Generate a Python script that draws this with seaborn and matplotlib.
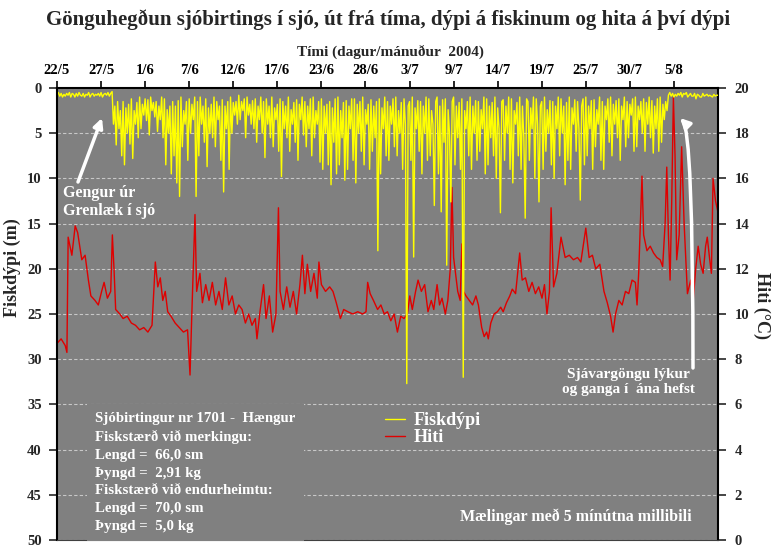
import numpy as np
import pandas as pd
import matplotlib
matplotlib.use("Agg")
import matplotlib.pyplot as plt
import seaborn as sns

# fish depth (m), one reading every 4 hours from 22/5 (one row per day)
depth = [
    0.8, 0.5, 0.9, 0.6, 1.0, 0.7,
    0.9, 0.6, 0.8, 0.5, 1.0, 0.6,
    0.7, 1.0, 0.6, 0.9, 0.5, 0.8,
    0.9, 0.6, 1.0, 0.7, 0.8, 0.5,
    1.0, 0.7, 0.6, 0.9, 0.7, 0.8,
    0.6, 0.9, 0.5, 1.0, 0.7, 0.6,
    0.8, 0.5, 0.9, 0.6, 0.4, 4.0,
    2.0, 6.3, 1.5, 4.5, 2.5, 7.5,
    1.5, 8.5, 2.2, 5.0, 1.8, 6.2,
    1.2, 7.8, 2.5, 4.0, 1.6, 5.5,
    1.0, 4.5, 1.8, 3.0, 1.2, 3.6,
    1.3, 5.2, 1.0, 2.5, 1.6, 3.2,
    1.5, 4.8, 2.0, 3.5, 1.0, 5.5,
    1.2, 8.5, 2.4, 5.0, 2.0, 9.5,
    1.5, 7.5, 2.0, 10.5, 1.4, 12.0,
    1.0, 6.5, 2.5, 4.0, 1.5, 8.0,
    1.2, 5.0, 1.8, 3.5, 1.0, 12.0,
    1.5, 7.5, 1.0, 4.0, 2.0, 6.0,
    1.2, 8.7, 2.2, 5.0, 1.8, 5.5,
    1.0, 6.5, 1.5, 3.5, 2.0, 8.0,
    1.3, 11.5, 2.0, 4.5, 1.5, 9.0,
    1.0, 5.0, 1.6, 3.0, 1.5, 4.0,
    0.8, 3.5, 1.5, 2.5, 1.2, 5.5,
    1.0, 3.0, 1.8, 4.0, 1.4, 4.5,
    1.2, 6.0, 2.0, 3.5, 1.0, 5.0,
    1.5, 7.7, 1.2, 4.0, 2.0, 5.5,
    1.0, 6.5, 2.2, 3.5, 1.8, 7.0,
    1.2, 9.8, 1.5, 4.5, 2.0, 5.5,
    1.0, 7.0, 2.4, 4.0, 1.6, 6.0,
    1.3, 8.0, 1.8, 3.5, 1.0, 5.2,
    1.5, 6.5, 2.0, 4.5, 1.2, 7.5,
    1.0, 5.5, 2.5, 4.0, 1.5, 8.2,
    1.2, 9.0, 2.0, 5.0, 1.8, 8.5,
    1.5, 10.7, 2.2, 6.0, 1.2, 9.5,
    1.0, 8.5, 2.5, 5.5, 1.6, 10.2,
    1.4, 9.0, 2.0, 4.5, 1.2, 8.0,
    1.2, 10.5, 1.8, 5.0, 1.5, 7.0,
    1.0, 8.5, 2.4, 4.0, 1.8, 9.0,
    1.3, 7.0, 2.0, 5.5, 1.5, 18.0,
    1.2, 9.5, 2.2, 4.5, 1.0, 7.5,
    1.5, 8.0, 2.0, 4.0, 1.2, 6.5,
    1.0, 7.5, 2.5, 5.0, 1.6, 9.0,
    1.2, 4.0, 32.7, 2.0, 1.5, 8.0,
    1.0, 18.7, 2.2, 4.5, 1.4, 7.0,
    1.5, 9.5, 2.0, 5.0, 1.0, 8.0,
    1.2, 7.5, 2.5, 4.0, 13.0, 1.5,
    1.0, 9.5, 2.0, 13.7, 1.3, 6.0,
    1.2, 19.6, 2.4, 5.0, 12.6, 1.5,
    1.0, 8.5, 2.0, 5.5, 1.6, 9.0,
    1.2, 32.0, 2.5, 4.5, 1.5, 7.5,
    1.0, 9.0, 2.0, 5.0, 1.4, 8.0,
    1.5, 7.0, 2.4, 4.5, 1.0, 9.5,
    1.2, 8.5, 2.0, 5.5, 1.6, 7.5,
    1.0, 10.0, 2.2, 4.5, 13.8, 1.5,
    1.3, 8.0, 2.0, 5.0, 1.0, 9.0,
    1.2, 10.5, 2.5, 4.0, 1.6, 7.5,
    1.0, 9.0, 2.0, 5.5, 14.4, 1.2,
    1.5, 8.0, 2.2, 4.5, 1.0, 10.0,
    1.2, 4.0, 12.6, 2.0, 1.5, 9.0,
    1.0, 7.0, 2.4, 5.0, 1.4, 8.5,
    1.5, 10.0, 2.0, 4.5, 1.0, 7.5,
    1.2, 5.0, 2.0, 10.7, 1.6, 8.0,
    1.0, 9.0, 2.2, 4.0, 1.3, 7.0,
    1.5, 4.5, 12.4, 2.0, 1.2, 8.5,
    1.0, 7.5, 2.0, 4.5, 1.4, 9.0,
    1.3, 6.5, 2.4, 4.0, 1.0, 8.0,
    1.5, 9.0, 2.0, 3.5, 1.2, 6.0,
    1.0, 7.5, 1.8, 4.0, 1.4, 5.5,
    1.2, 8.0, 2.0, 3.5, 1.0, 6.5,
    1.5, 5.5, 1.8, 3.0, 1.2, 7.0,
    1.0, 6.5, 2.0, 3.5, 1.5, 5.0,
    1.2, 7.0, 1.6, 4.0, 1.0, 5.5,
    1.4, 7.2, 2.0, 4.5, 1.2, 7.0,
    1.0, 6.0, 1.8, 3.5, 1.5, 2.5,
    0.8, 0.5, 0.9, 0.6, 1.0, 0.7,
    0.9, 0.6, 0.8, 0.5, 1.0, 0.6,
    0.7, 0.5, 1.0, 0.8, 0.6, 0.9,
    0.9, 0.6, 1.2, 0.7, 0.8, 1.0,
    1.0, 0.6, 0.9, 0.8, 0.7, 0.9,
    0.8, 0.9, 1.0, 0.7, 0.9, 0.8,
    0.8,
]

# temperature (°C), time in days from 22/5
temp_days = [
    0, 0.5, 1.0, 1.2, 1.35, 1.8, 2.2, 2.5, 3.0, 3.4, 3.8, 4.1, 4.6, 5.0, 5.4, 5.7, 6.1, 6.5, 6.7, 6.9,
    7.1, 7.6, 8.0, 8.5, 9.0, 9.5, 10.0, 10.5, 11.0, 11.5, 11.9, 12.2, 12.5, 12.8, 13.1, 13.4, 13.8, 14.3, 14.8, 15.3,
    15.8, 16.1, 16.3, 16.7, 16.9, 17.3, 17.6, 18.0, 18.4, 18.8, 19.2, 19.6, 20.0, 20.4, 20.8, 21.2, 21.6, 22.0, 22.4, 22.8,
    23.2, 23.6, 24.0, 24.2, 24.6, 25.0, 25.3, 25.7, 26.1, 26.5, 26.8, 27.0, 27.4, 27.8, 28.2, 28.6, 29.0, 29.4, 29.7, 30.0,
    30.3, 30.7, 31.1, 31.5, 31.7, 32.0, 32.5, 33.0, 33.4, 33.8, 34.3, 34.7, 35.2, 35.8, 36.4, 37.0, 37.4, 37.6, 37.9, 38.3,
    38.8, 39.2, 39.6, 40.0, 40.4, 40.8, 41.2, 41.6, 42.0, 42.4, 42.7, 43.0, 43.4, 43.7, 44.1, 44.5, 44.9, 45.3, 45.6, 46.0,
    46.3, 46.6, 47.0, 47.3, 47.6, 47.8, 48.0, 48.2, 48.5, 48.8, 49.0, 49.2, 49.5, 49.9, 50.3, 50.7, 51.0, 51.4, 51.7, 52.0,
    52.2, 52.5, 52.9, 53.3, 53.7, 54.0, 54.4, 54.8, 55.1, 55.5, 56.0, 56.3, 56.7, 57.1, 57.5, 57.9, 58.3, 58.7, 59.0, 59.3,
    59.6, 59.8, 60.1, 60.5, 61.0, 61.5, 62.0, 62.5, 63.0, 63.4, 64.0, 64.4, 64.8, 65.2, 65.7, 66.2, 66.6, 67.0, 67.3, 67.6,
    68.0, 68.4, 68.8, 69.2, 69.6, 70.0, 70.2, 70.4, 70.8, 71.0, 71.4, 71.8, 72.2, 72.6, 73.0, 73.3, 73.6, 73.8, 74.0, 74.2,
    74.4, 74.6, 74.8, 75.0, 75.3, 75.6, 75.9, 76.3, 76.7, 77.0, 77.3, 77.6, 77.9, 78.2, 78.5, 78.7, 79.0, 79.2, 79.4, 79.7,
    80.0,
]
temp = [
    8.7, 8.9, 8.6, 8.3, 13.4, 12.6, 13.9, 13.6, 12.4, 12.6, 11.5, 10.8, 10.6, 10.4, 11.0, 11.4, 10.7, 11.0, 13.5, 12.0,
    10.2, 10.0, 9.8, 9.9, 9.6, 9.5, 9.3, 9.4, 9.2, 9.5, 12.3, 11.2, 11.6, 10.6, 11.0, 10.1, 9.9, 9.6, 9.4, 9.2,
    9.3, 7.3, 9.8, 14.4, 11.0, 11.8, 10.5, 11.3, 10.6, 11.4, 10.4, 11.0, 10.2, 11.6, 10.4, 10.8, 10.0, 10.4, 10.2, 9.6,
    10.0, 9.5, 9.8, 8.9, 10.2, 11.3, 9.8, 10.8, 9.2, 10.0, 14.7, 11.0, 10.2, 11.2, 10.3, 11.0, 10.0, 11.3, 12.6, 10.9,
    12.2, 11.0, 11.8, 10.7, 12.3, 11.3, 11.0, 11.2, 11.0, 10.5, 9.8, 10.2, 10.1, 10.0, 10.1, 10.0, 10.1, 11.4, 10.9, 10.6,
    10.2, 10.4, 10.0, 10.1, 9.7, 10.0, 9.2, 9.9, 9.8, 10.0, 10.8, 10.2, 11.0, 11.5, 11.0, 11.3, 10.1, 10.6, 10.2, 11.3,
    10.4, 10.7, 10.0, 10.6, 12.0, 15.6, 12.5, 11.9, 11.0, 10.6, 13.1, 11.0, 10.8, 10.6, 10.4, 10.8, 10.4, 9.4, 9.0, 9.2,
    8.9, 9.6, 10.0, 10.1, 10.3, 10.1, 10.5, 10.8, 11.1, 10.9, 12.7, 11.5, 11.6, 11.0, 11.4, 10.9, 11.2, 10.7, 11.3, 10.0,
    11.0, 14.7, 11.2, 11.8, 13.4, 12.5, 12.6, 12.4, 12.5, 12.3, 13.8, 12.5, 12.6, 12.0, 12.2, 11.0, 10.5, 9.9, 9.2, 10.0,
    10.6, 10.4, 11.0, 10.9, 11.5, 11.4, 10.4, 11.8, 16.1, 13.5, 12.8, 13.0, 12.7, 12.5, 12.4, 12.1, 14.0, 16.5, 13.5, 11.5,
    15.0, 19.6, 17.0, 12.4, 13.5, 17.4, 14.0, 10.9, 11.5, 10.6, 12.0, 13.0, 12.2, 11.8, 13.0, 13.4, 12.4, 11.8, 16.0, 15.0,
    14.5,
]

tick_labels = ["22/5", "27/5", "1/6", "7/6", "12/6", "17/6", "23/6", "28/6",
               "3/7", "9/7", "14/7", "19/7", "25/7", "30/7", "5/8"]

df_depth = pd.DataFrame({"dagar": np.arange(len(depth)) / 6, "Fiskdýpi": depth})
df_temp = pd.DataFrame({"dagar": temp_days, "Hiti": temp})

sns.set_style("ticks")
plt.rcParams["font.family"] = ["Liberation Serif", "DejaVu Serif"]
plt.rcParams["font.weight"] = "bold"

fig = plt.figure(figsize=(7.73, 5.5), dpi=100)
ax = fig.add_axes([57 / 773, 10 / 550, 661 / 773, 452 / 550])
ax2 = ax.twinx()

# temperature axis sits underneath and carries the grey background + grid
ax.set_zorder(ax2.get_zorder() + 1)
ax.patch.set_visible(False)
ax2.patch.set_visible(True)
ax2.set_facecolor("#808080")

sns.lineplot(data=df_temp, x="dagar", y="Hiti", ax=ax2, color="#e00000", lw=1.0, label="Hiti", legend=False)
sns.lineplot(data=df_depth, x="dagar", y="Fiskdýpi", ax=ax, color="#ffff00", lw=1.0, label="Fiskdýpi", legend=False)

ax.set_xlim(0, 80)
ax.set_ylim(50, 0)
ax2.set_ylim(0, 20)
ax.set_yticks(range(0, 51, 5))
ax2.set_yticks(range(0, 21, 2))
ax2.yaxis.grid(True, color="#c8c8c8", linestyle=(0, (3, 2)), linewidth=0.8)
ax2.set_axisbelow(True)

ax.xaxis.tick_top()
ax.set_xticks(np.arange(len(tick_labels)) * 16 / 3)
ax.set_xticklabels(tick_labels)
ax.set_xlabel("")
ax.set_ylabel("")
ax2.set_ylabel("")

ax.tick_params(axis="x", direction="out", length=5, width=1.2, pad=3, labelsize=10.5, colors="black")
ax.tick_params(axis="y", direction="out", length=6, width=1.2, pad=5, labelsize=10.5)
ax2.tick_params(axis="y", direction="out", length=6, width=1.2, pad=6, labelsize=10.5)

for s in ["left", "top"]:
    ax.spines[s].set_color("black")
    ax.spines[s].set_linewidth(1.5)
ax.spines["right"].set_visible(False)
ax.spines["bottom"].set_color("#404040")
ax.spines["bottom"].set_linewidth(0.8)
for s in ["left", "top", "bottom"]:
    ax2.spines[s].set_visible(False)
ax2.spines["right"].set_color("black")
ax2.spines["right"].set_linewidth(1.5)

fig.text(0.502, 1 - 20 / 550, "Gönguhegðun sjóbirtings í sjó, út frá tíma, dýpi á fiskinum og hita á því dýpi",
         ha="center", va="center", fontsize=15, fontweight="bold")
fig.text(390 / 773, 1 - 52 / 550, "Tími (dagur/mánuður  2004)", ha="center", va="center", fontsize=11, fontweight="bold")
fig.text(12 / 773, 1 - 268 / 550, "Fiskdýpi (m)", rotation=90, ha="center", va="center", fontsize=13, fontweight="bold")
fig.text(762 / 773, 1 - 305 / 550, "Hiti (°C)", rotation=270, ha="center", va="center", fontsize=13, fontweight="bold")

# annotations
fig.text(63 / 773, 1 - 202 / 550, "Gengur úr\nGrenlæk í sjó", color="white", ha="left", va="center",
         fontsize=11.5, fontweight="bold", linespacing=1.15)
ax.annotate("", xy=(102, 432), xycoords="figure pixels", xytext=(78, 368), textcoords="figure pixels",
            arrowprops=dict(arrowstyle="-|>", color="white", lw=2.5, mutation_scale=14, shrinkA=0, shrinkB=0))

fig.text(628 / 773, 1 - 382 / 550, "Sjávargöngu lýkur\nog ganga í  ána hefst", color="white", ha="center", va="center",
         fontsize=11, fontweight="bold", linespacing=1.25)
ax.annotate("", xy=(680, 432), xycoords="figure pixels", xytext=(693, 182), textcoords="figure pixels",
            arrowprops=dict(arrowstyle="-|>", color="white", lw=2.5, mutation_scale=14, shrinkA=0, shrinkB=0,
                            connectionstyle="angle3,angleA=90,angleB=135"))

info = ("Sjóbirtingur nr 1701 -  Hængur\nFiskstærð við merkingu:\nLengd =  66,0 sm\nÞyngd =  2,91 kg\n"
        "Fiskstærð við endurheimtu:\nLengd =  70,0 sm\nÞyngd =  5,0 kg")
fig.text(95 / 773, 1 - 412 / 550, info, color="white", ha="left", va="top", fontsize=10.75, fontweight="bold",
         linespacing=1.47, bbox=dict(facecolor="#808080", edgecolor="none", pad=6))

fig.text(692 / 773, 1 - 517 / 550, "Mælingar með 5 mínútna millibili", color="white", ha="right", va="center",
         fontsize=11.5, fontweight="bold")

h1, l1 = ax.get_legend_handles_labels()
h2, l2 = ax2.get_legend_handles_labels()
fig.legend(h1 + h2, l1 + l2, loc="upper left", bbox_to_anchor=(376 / 773, 1 - 403 / 550), frameon=False,
           labelcolor="white", prop={"size": 13, "weight": "bold"}, handlelength=1.1, handletextpad=0.5,
           labelspacing=0.0, borderpad=0)

fig.savefig("out.png", dpi=100)
